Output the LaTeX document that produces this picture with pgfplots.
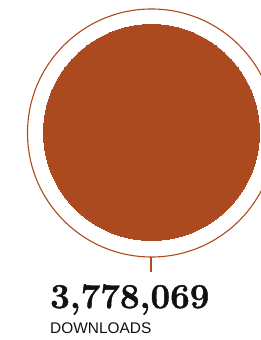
\documentclass[border=0pt]{standalone}
\usepackage{fontspec}
\setmainfont{Latin Modern Roman}
\newfontfamily\labelfont{Liberation Sans}
\newfontfamily\numfont[BoldFeatures={FakeBold=1.2}]{Latin Modern Roman}
\usepackage{pgfplots}
\pgfplotsset{compat=1.18}
\definecolor{rust}{RGB}{171,74,31}
\definecolor{ink}{RGB}{17,17,17}
\begin{document}
\begin{tikzpicture}[x=1bp,y=1bp]
\begin{axis}[
  width=261bp, height=340bp, scale only axis,
  xmin=0, xmax=261, ymin=0, ymax=340,
  hide axis, clip=true, clip marker paths=true,
]
% outer ring
\addplot[only marks, color=rust, mark=o, mark size=124bp, mark options={draw=rust, fill=none, line width=1.1bp}] coordinates {(151.5,207)};
% filled disc (3,778,069 downloads)
\addplot[only marks, color=rust, mark=*, mark size=108bp, mark options={draw=rust, fill=rust, line width=0bp}] coordinates {(151.5,207.5)};
% connector line
\addplot[rust, line width=1.1bp] coordinates {(151,83) (151,68)};
\node[anchor=base west, inner sep=0pt, text=ink] at (axis cs:50,32) {\numfont\bfseries\fontsize{35}{40}\selectfont 3,778,069};
\node[anchor=base west, inner sep=0pt, text=ink] at (axis cs:50,7) {\labelfont\fontsize{15.5}{18}\selectfont DOWNLOADS};
\end{axis}
\pgfresetboundingbox
\path[use as bounding box] (current axis.south west) rectangle (current axis.north east);
\end{tikzpicture}
\end{document}
